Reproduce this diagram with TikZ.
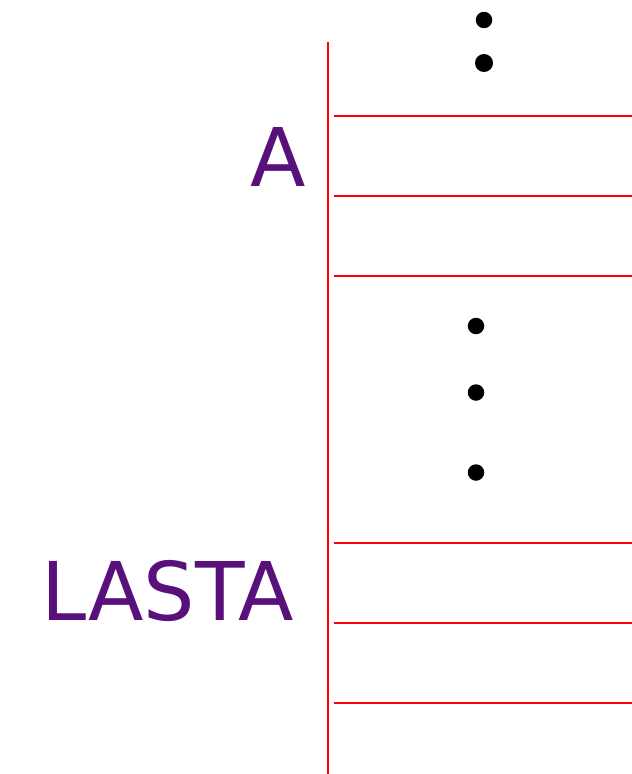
\documentclass[tikz,border=0pt]{standalone}
\usepackage{fontspec}
\setmainfont{DejaVu Sans}
\definecolor{lblpurple}{RGB}{88,17,122}
\begin{document}
\begin{tikzpicture}[x=1pt,y=-1pt,
  redline/.style={draw=red,line width=2.4pt},
  dotmark/.style={circle,fill=black,inner sep=0pt,minimum size=16.5pt},
  biglabel/.style={text=lblpurple,font=\fontsize{81}{90}\selectfont,inner sep=0pt,anchor=base east}]
\useasboundingbox (0,0) rectangle (632,774);
\coordinate (vtop) at (328,42);
\coordinate (vbot) at (328,774);
\draw[redline] (vtop) -- (vbot);
\foreach \y/\n in {116/h1,196/h2,276/h3,543/h4,623/h5,703/h6}{
  \coordinate (\n l) at (334,\y);
  \coordinate (\n r) at (632,\y);
  \draw[redline] (\n l) -- (\n r);
}
\node[dotmark] (d1) at (484,20) {};
\node[dotmark,minimum height=18pt] (d2) at (484,63) {};
\node[dotmark] (d3) at (476,326) {};
\node[dotmark] (d4) at (476,392.5) {};
\node[dotmark] (d5) at (476,472.5) {};
\node[biglabel] (la) at (306.5,186) {A};
\node[biglabel] (lb) at (294,620) {LASTA};
\end{tikzpicture}
\end{document}
